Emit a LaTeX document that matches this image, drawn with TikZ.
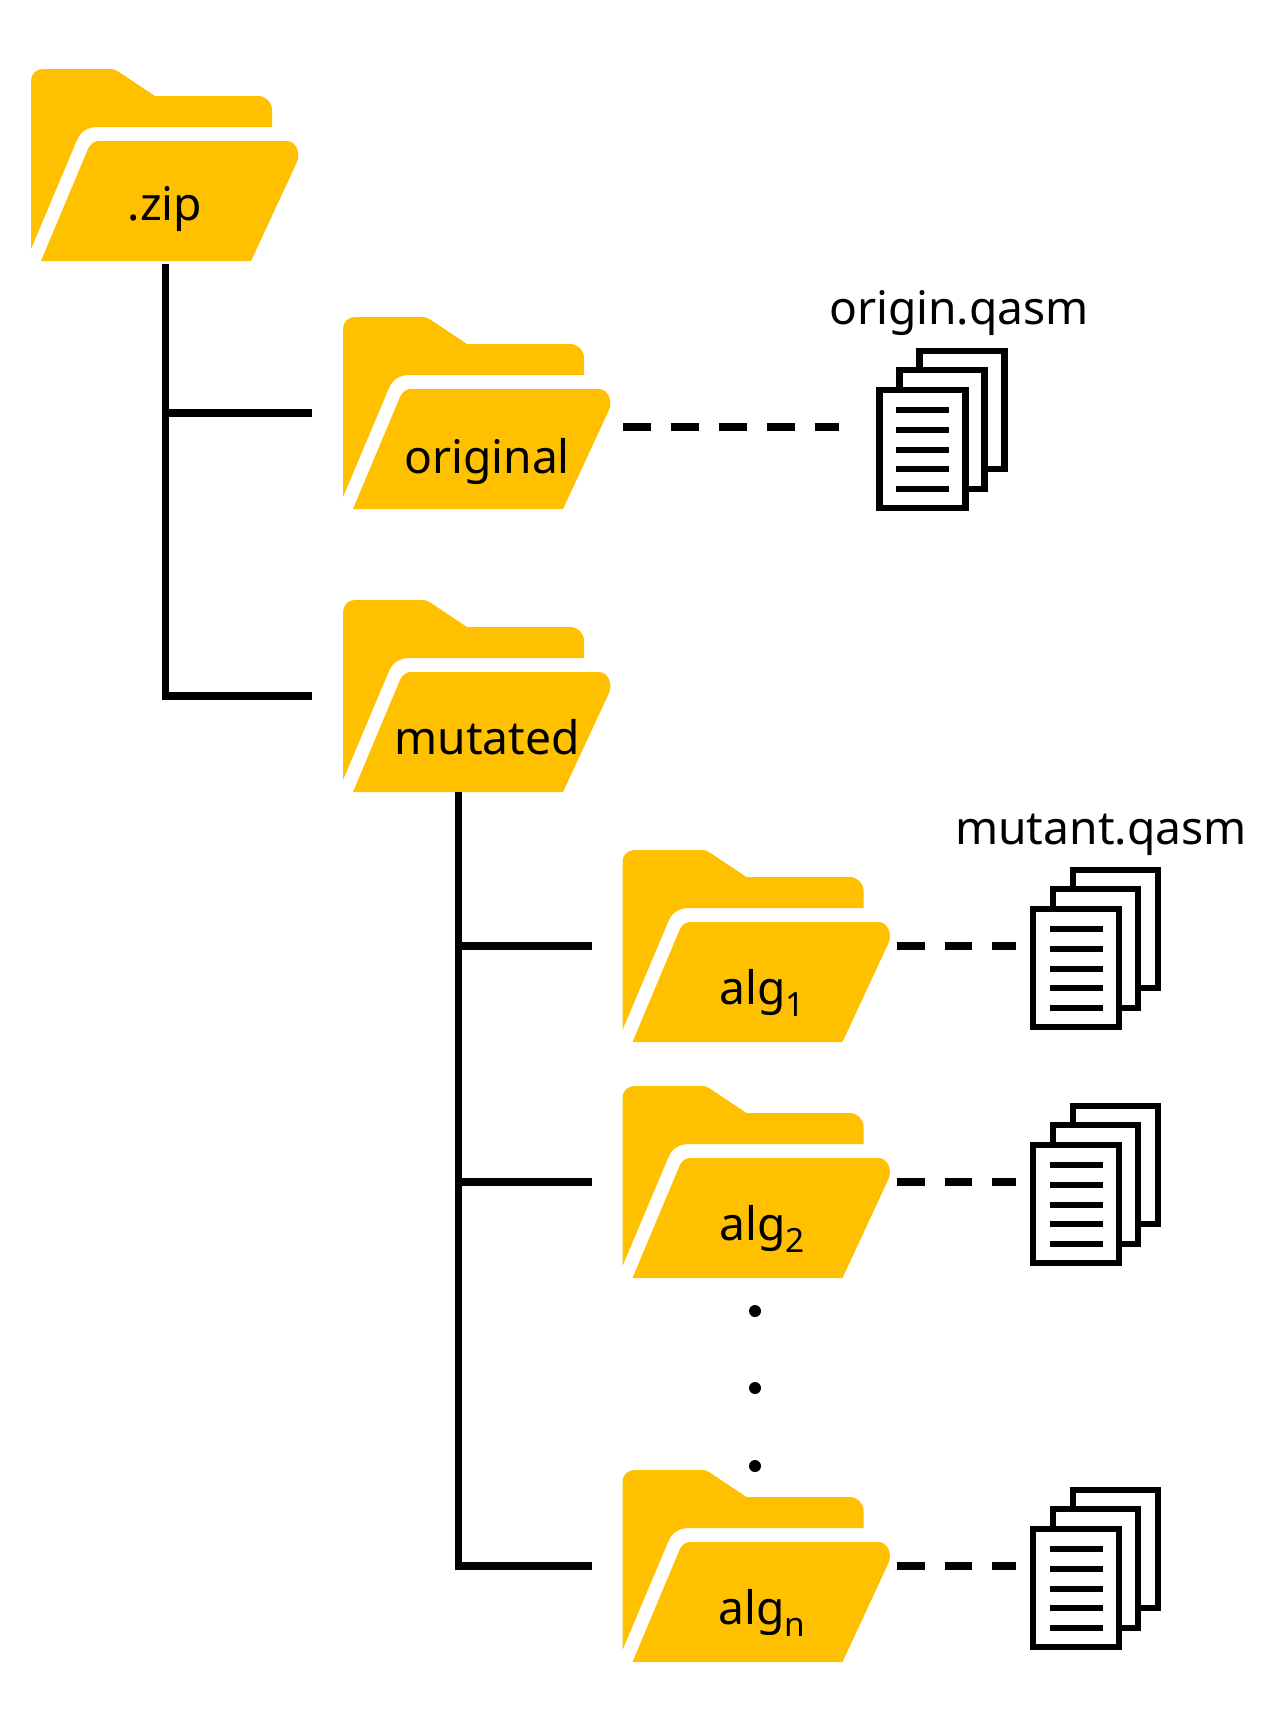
\documentclass[tikz,border=0pt]{standalone}
\usepackage{fontspec}
\setmainfont{Noto Sans}
\definecolor{folderc}{HTML}{FFC000}
\tikzset{
  folderfill/.style={fill=folderc,draw=none},
  label/.style={inner sep=0pt,anchor=base,font=\fontsize{26.3pt}{30pt}\selectfont,text=black},
  tree/.style={draw=black,line width=0.15cm,miter limit=10},
  dashline/.style={draw=black,line width=0.15cm,dash pattern=on 0.56cm off 0.4cm},
  sheet/.style={draw=black,fill=white,line width=0.13cm},
  rule/.style={draw=black,line width=0.13cm},
  dotc/.style={circle,fill=black,inner sep=0pt,minimum size=0.24cm},
}
\newcommand{\myfolder}[3]{%
  \begin{scope}[shift={(#2,#3)}]
    \fill[folderfill] (0,12) .. controls (0,5) and (5,0) .. (12,0) -- (79,0)
      .. controls (83,0) and (85,1) .. (88,3) -- (124,27) -- (227,27)
      .. controls (235,27) and (241,33) .. (241,41) -- (241,58) -- (67,58)
      .. controls (57,58) and (50,62) .. (46,71) -- (0,180) -- cycle;
    \fill[folderfill] (10,192) -- (57,80) .. controls (59,75) and (63,72) .. (68,72)
      -- (256,72) .. controls (265,72) and (270,84) .. (266,93) -- (220,192) -- cycle;
    \coordinate (#1-l) at (-31,96);
    \coordinate (#1-r) at (274,96);
  \end{scope}}
\newcommand{\mydocs}[3]{%
  \begin{scope}[shift={(#2,#3)}]
    \draw[sheet] (43,3) rectangle (128,121);
    \draw[sheet] (23,22) rectangle (108,141);
    \draw[sheet] (3,42) rectangle (89,160);
    \foreach \yy in {62,82,102,121,141} \draw[rule] (19.5,\yy) -- (72.5,\yy);
    \coordinate (#1-l) at (0,79);
  \end{scope}}
\newcommand{\subs}[1]{\raisebox{-0.28em}{\fontsize{19pt}{22pt}\selectfont #1}}
\begin{document}
\begin{tikzpicture}[x=0.02cm,y=-0.02cm]
  \useasboundingbox (0,0) rectangle (1286,1731);
  \myfolder{zip}{31}{69}
  \myfolder{original}{343}{317}
  \myfolder{mutated}{343}{600}
  \myfolder{algone}{622.5}{850}
  \myfolder{algtwo}{622.5}{1086}
  \myfolder{algn}{622.5}{1470}
  \mydocs{odoc}{876.5}{348}
  \mydocs{docone}{1030}{867}
  \mydocs{doctwo}{1030}{1103}
  \mydocs{docn}{1030}{1487}
  \node[label] (tzip) at (165,220) {.zip};
  \node[label] (toriginal) at (487,473) {original};
  \node[label] (tmutated) at (487,754) {mutated};
  \node[label] (talgone) at (762,1004) {alg\subs{1}};
  \node[label] (talgtwo) at (762,1240) {alg\subs{2}};
  \node[label] (talgn) at (762,1624) {alg\subs{n}};
  \node[label] (torigin) at (959,324) {origin.qasm};
  \node[label] (tmutant) at (1101,844) {mutant.qasm};
  \node[dotc] (d1) at (755,1311) {};
  \node[dotc] (d2) at (755,1388) {};
  \node[dotc] (d3) at (755,1466) {};
  \coordinate (zipb) at (165.5,264);
  \coordinate (mutb) at (458.5,792);
  \coordinate (origout) at ([shift={(6,14)}]original-r);
  \draw[tree] (zipb) |- (mutated-l);
  \draw[tree] (zipb |- original-l) -- (original-l);
  \draw[tree] (mutb) |- (algn-l);
  \draw[tree] (mutb |- algone-l) -- (algone-l);
  \draw[tree] (mutb |- algtwo-l) -- (algtwo-l);
  \draw[dashline,shorten >=0.76cm] (origout) -- (odoc-l);
  \draw[dashline,shorten >=0.28cm] (algone-r) -- (docone-l);
  \draw[dashline,shorten >=0.28cm] (algtwo-r) -- (doctwo-l);
  \draw[dashline,shorten >=0.28cm] (algn-r) -- (docn-l);
\end{tikzpicture}
\end{document}
